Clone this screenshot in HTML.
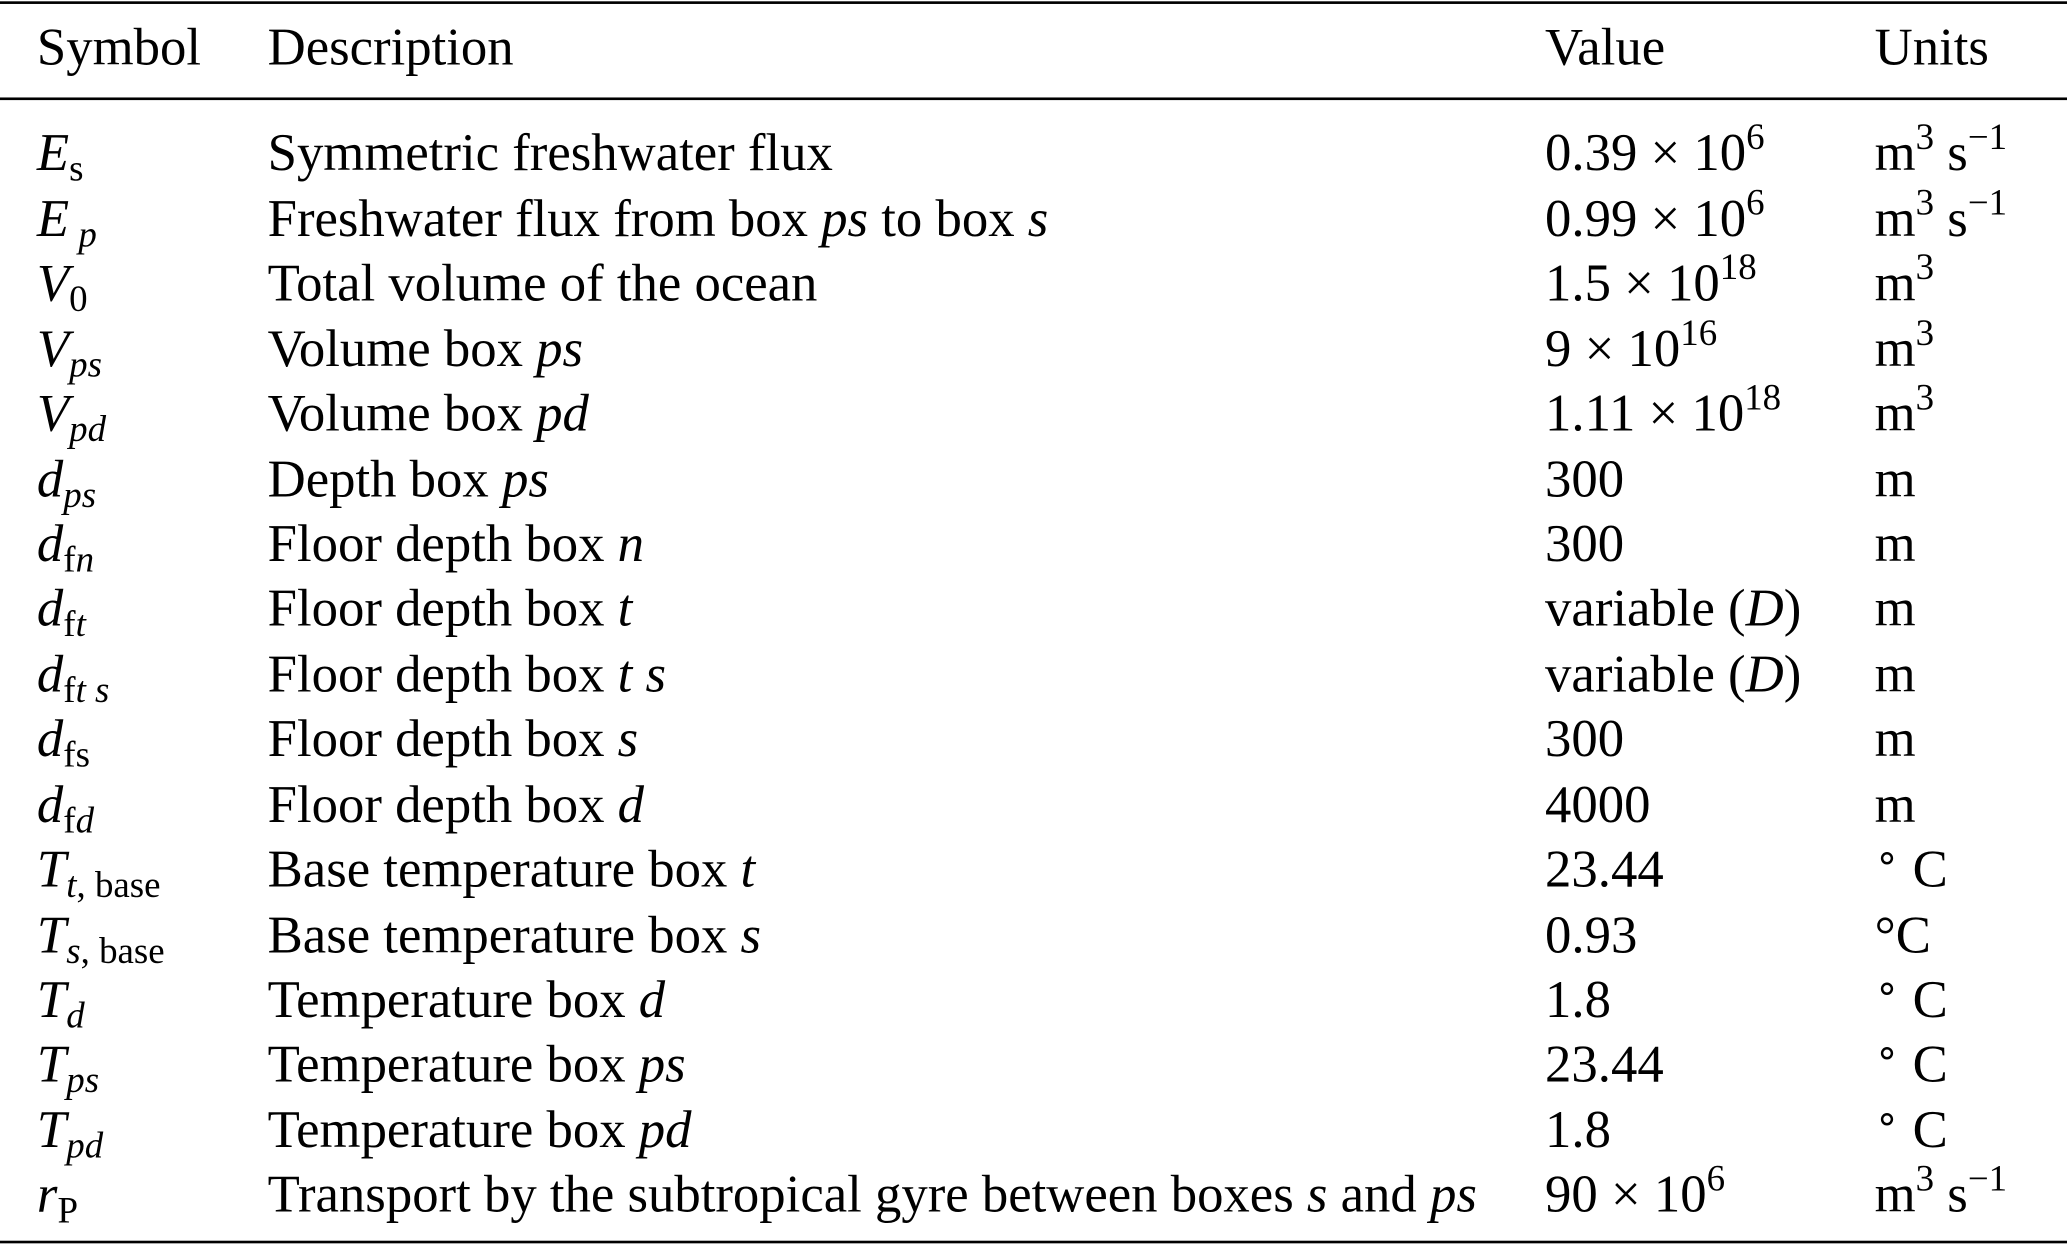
<!DOCTYPE html>
<html><head><meta charset="utf-8"><style>
html,body{margin:0;padding:0;background:#fff;overflow:hidden}
#w{position:absolute;left:0;top:0;width:1568px;height:946px;transform:scale(1.3183,1.3171);transform-origin:0 0;font-family:"Liberation Serif",serif;font-size:40px;color:#000}
.r{position:absolute;left:0;width:1568px;height:40px;line-height:40px;white-space:nowrap}
.r span.c{position:absolute;top:0}
.c1{left:28px}.c2{left:203px}.c3{left:1172px}.c4{left:1422px}
i{font-style:italic}
sub{font-size:28px;vertical-align:-8px;line-height:0}
sup{font-size:28px;vertical-align:16px;line-height:0}
.dg{font-size:30px;vertical-align:12px;line-height:0}
.h{position:absolute;left:0;width:1568px;background:#000}
</style></head><body><div id="w">
<div class="h" style="top:1px;height:2px"></div>
<div class="h" style="top:74px;height:2px"></div>
<div class="h" style="top:942px;height:2px"></div>
<div class="r" style="top:16px"><span class="c c1">Symbol</span><span class="c c2">Description</span><span class="c c3">Value</span><span class="c c4">Units</span></div>
<div class="r" style="top:96px"><span class="c c1"><i>E</i><sub>s</sub></span><span class="c c2">Symmetric freshwater flux</span><span class="c c3">0.39 × 10<sup>6</sup></span><span class="c c4">m<sup>3</sup> s<sup>−1</sup></span></div>
<div class="r" style="top:146px"><span class="c c1"><i>E</i><sub><i>&nbsp;p</i></sub></span><span class="c c2">Freshwater flux from box <i>ps</i> to box <i>s</i></span><span class="c c3">0.99 × 10<sup>6</sup></span><span class="c c4">m<sup>3</sup> s<sup>−1</sup></span></div>
<div class="r" style="top:195px"><span class="c c1"><i>V</i><sub>0</sub></span><span class="c c2">Total volume of the ocean</span><span class="c c3">1.5 × 10<sup>18</sup></span><span class="c c4">m<sup>3</sup></span></div>
<div class="r" style="top:245px"><span class="c c1"><i>V</i><sub><i>ps</i></sub></span><span class="c c2">Volume box <i>ps</i></span><span class="c c3">9 × 10<sup>16</sup></span><span class="c c4">m<sup>3</sup></span></div>
<div class="r" style="top:294px"><span class="c c1"><i>V</i><sub><i>pd</i></sub></span><span class="c c2">Volume box <i>pd</i></span><span class="c c3">1.11 × 10<sup>18</sup></span><span class="c c4">m<sup>3</sup></span></div>
<div class="r" style="top:344px"><span class="c c1"><i>d</i><sub><i>ps</i></sub></span><span class="c c2">Depth box <i>ps</i></span><span class="c c3">300</span><span class="c c4">m</span></div>
<div class="r" style="top:393px"><span class="c c1"><i>d</i><sub>f<i>n</i></sub></span><span class="c c2">Floor depth box <i>n</i></span><span class="c c3">300</span><span class="c c4">m</span></div>
<div class="r" style="top:442px"><span class="c c1"><i>d</i><sub>f<i>t</i></sub></span><span class="c c2">Floor depth box <i>t</i></span><span class="c c3">variable (<i>D</i>)</span><span class="c c4">m</span></div>
<div class="r" style="top:492px"><span class="c c1"><i>d</i><sub>f<i>t s</i></sub></span><span class="c c2">Floor depth box <i>t s</i></span><span class="c c3">variable (<i>D</i>)</span><span class="c c4">m</span></div>
<div class="r" style="top:541px"><span class="c c1"><i>d</i><sub>fs</sub></span><span class="c c2">Floor depth box <i>s</i></span><span class="c c3">300</span><span class="c c4">m</span></div>
<div class="r" style="top:591px"><span class="c c1"><i>d</i><sub>f<i>d</i></sub></span><span class="c c2">Floor depth box <i>d</i></span><span class="c c3">4000</span><span class="c c4">m</span></div>
<div class="r" style="top:640px"><span class="c c1"><i>T</i><sub><i>t</i>, base</sub></span><span class="c c2">Base temperature box <i>t</i></span><span class="c c3">23.44</span><span class="c c4"><span class="dg">∘</span> C</span></div>
<div class="r" style="top:690px"><span class="c c1"><i>T</i><sub><i>s</i>, base</sub></span><span class="c c2">Base temperature box <i>s</i></span><span class="c c3">0.93</span><span class="c c4">°C</span></div>
<div class="r" style="top:739px"><span class="c c1"><i>T</i><sub><i>d</i></sub></span><span class="c c2">Temperature box <i>d</i></span><span class="c c3">1.8</span><span class="c c4"><span class="dg">∘</span> C</span></div>
<div class="r" style="top:788px"><span class="c c1"><i>T</i><sub><i>ps</i></sub></span><span class="c c2">Temperature box <i>ps</i></span><span class="c c3">23.44</span><span class="c c4"><span class="dg">∘</span> C</span></div>
<div class="r" style="top:838px"><span class="c c1"><i>T</i><sub><i>pd</i></sub></span><span class="c c2">Temperature box <i>pd</i></span><span class="c c3">1.8</span><span class="c c4"><span class="dg">∘</span> C</span></div>
<div class="r" style="top:887px"><span class="c c1"><i>r</i><sub>P</sub></span><span class="c c2">Transport by the subtropical gyre between boxes <i>s</i> and <i>ps</i></span><span class="c c3">90 × 10<sup>6</sup></span><span class="c c4">m<sup>3</sup> s<sup>−1</sup></span></div>
</div></body></html>
